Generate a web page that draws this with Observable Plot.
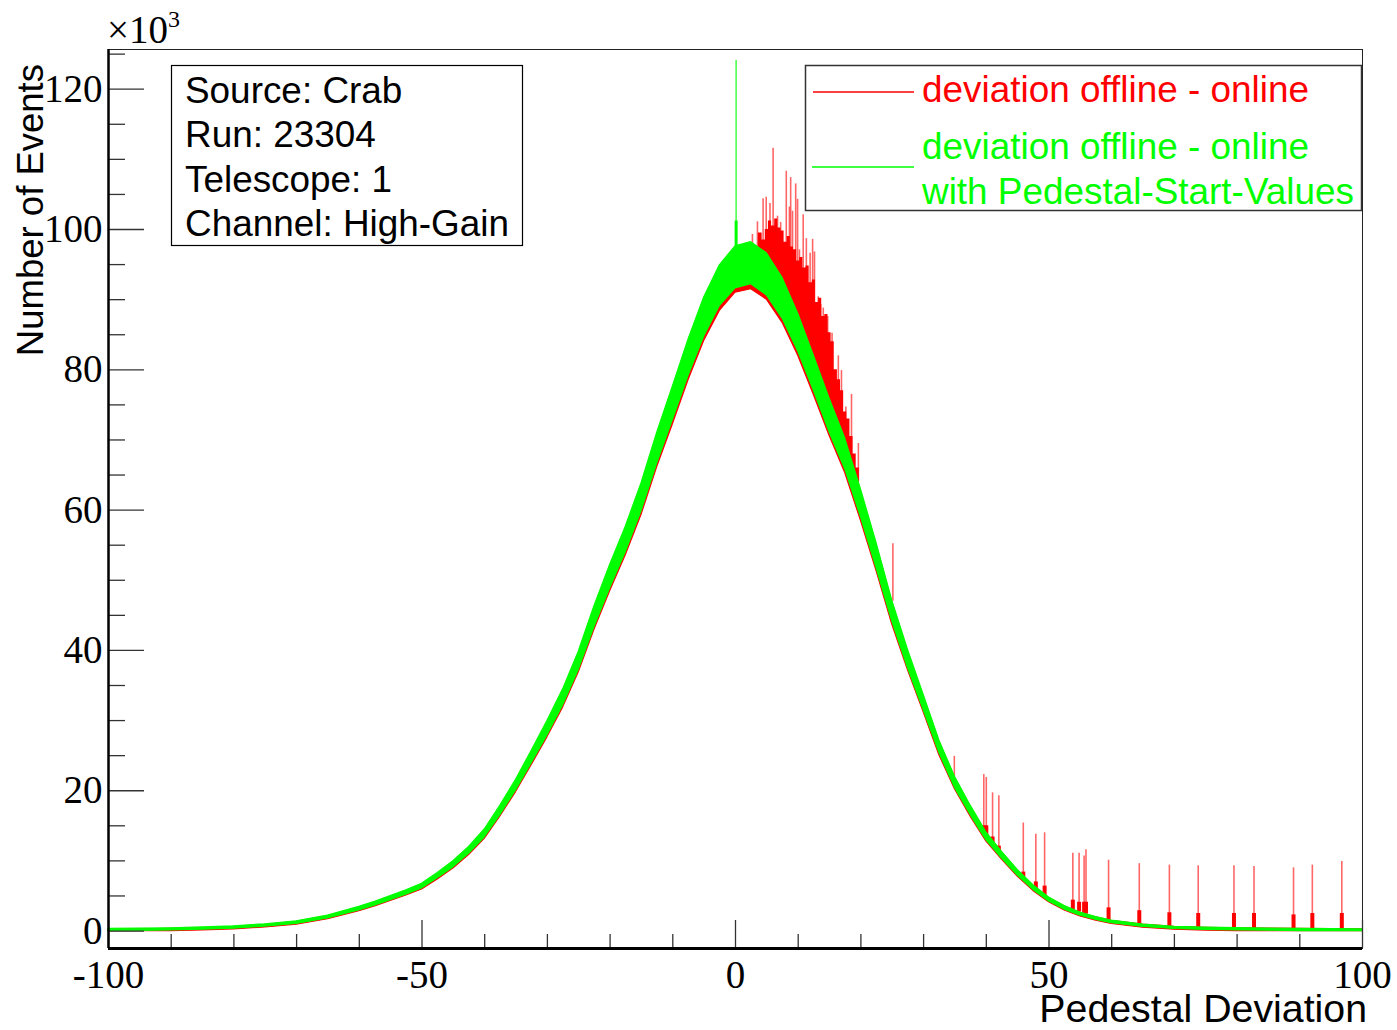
<!DOCTYPE html>
<html><head><meta charset="utf-8">
<script src="https://cdn.jsdelivr.net/npm/d3@7"></script>
<script src="https://cdn.jsdelivr.net/npm/@observablehq/plot@0.6"></script>
<style>
html,body{margin:0;padding:0;background:#fff;}
#chart{position:relative;width:1397px;height:1030px;overflow:hidden;}
</style></head><body><div id="chart"></div>
<script>
// Pedestal deviation (bin centre) and envelope of the fine-binned histograms, in units of 10^3 events
const xs = [-100,-95,-90,-85,-80,-75,-70,-65,-60,-57.5,-55,-52.5,-50,-47.5,-45,-42.5,-40,-37.5,-35,-32.5,-30,-27.5,-25,-22.5,-20,-17.5,-15,-12.5,-10,-7.5,-5,-2.5,0,2.5,5,7.5,10,12.5,15,17.5,20,22.5,25,27.5,30,32.5,35,37.5,40,42.5,45,47.5,50,52.5,55,57.5,60,65,70,75,80,85,90,95,100];
const greenLow  = [0,0.02,0.08,0.19,0.34,0.63,1.01,1.79,2.95,3.63,4.41,5.19,6.06,7.51,9.07,11.01,13.33,16.53,20.03,23.91,27.88,32.15,37.2,43.31,48.84,53.98,59.8,66.6,72.8,79.1,84.7,89.1,91.6,92.2,90.6,87.3,82.6,77.0,71.1,65.8,59.0,51.7,44.1,37.5,31.5,25.4,20.41,16.53,12.95,10.33,7.9,5.86,4.22,3.05,2.18,1.6,1.11,0.58,0.29,0.16,0.09,0.04,0,0,0];
const greenHigh = [0.3,0.34,0.4,0.51,0.67,0.97,1.39,2.21,3.45,4.17,4.99,5.82,6.74,8.29,9.94,11.99,14.47,17.87,21.57,25.69,29.92,34.45,39.81,46.29,52.17,57.62,63.8,71.0,77.6,84.3,90.3,94.9,97.6,98.2,96.6,93.1,88.0,82.0,75.9,70.2,63.0,55.3,47.1,40.1,33.7,27.2,21.99,17.87,14.06,11.27,8.7,6.54,4.79,3.55,2.62,2.0,1.49,0.92,0.61,0.48,0.41,0.36,0.3,0.27,0.25];
const redLow    = [0,0,0,0.09,0.24,0.52,0.9,1.68,2.83,3.51,4.28,5.06,5.92,7.36,8.91,10.84,13.15,16.33,19.81,23.66,27.61,31.85,36.87,42.94,48.44,53.55,59.3,66.1,72.2,78.5,84.1,88.4,91.0,91.5,90.0,86.7,82.0,76.4,70.6,65.3,58.5,51.3,43.7,37.2,31.2,25.1,20.2,16.3,12.77,10.17,7.75,5.72,4.09,2.93,2.07,1.49,1.0,0.47,0.19,0.06,0,0,0,0,0];
const redHigh   = [0.2,0.25,0.3,0.4,0.55,0.85,1.3,2.1,3.3,4.0,4.8,5.6,6.5,8.0,9.6,11.6,14.0,17.3,20.9,24.9,29.0,33.4,38.6,45.0,50.8,56.2,62.3,69.4,75.9,82.5,88.3,92.8,95.4,96.5,95.5,92.5,87.5,81.5,75.5,69.8,62.6,55.0,46.8,39.8,33.4,27.0,21.8,17.7,14.0,11.2,8.6,6.45,4.7,3.5,2.55,1.95,1.45,0.9,0.6,0.47,0.4,0.35,0.3,0.27,0.25];

// red excess right of the peak (dense forest of high bins): position, foot, top
const redExcessX    = [3.3,4.0,4.5,5.0,5.5,6.0,6.5,7.0,7.5,8.0,8.5,9.0,9.5,10.0,10.5,11.0,11.5,12.0,12.5,13.0,13.5,14.0,14.5,15.0,15.5,16.0,16.5,17.0,17.5,18.0,18.5,19.0,19.5,20.0];
const redExcessBase = [95,95,95,94,94,93,93,92,91,90,89,88,87,86,85,84,83,82,81,79,78,77,75,74,73,71,70,69,67,66,64,63,62,60];
const redExcessTop  = [97.5,99.5,98.5,100.0,101.2,100.5,101.5,100.2,99.8,98.2,99.0,97.5,97.1,95.5,96.0,94.5,94.8,92.4,92.8,89.6,90.2,87.6,87.9,85.3,84.0,80.0,78.6,77.0,74.0,73.0,70.5,68.0,66.0,63.0];

// single-bin red spikes near the peak: position, foot, top
const peakSpikeX    = [2.7,3.5,4.4,4.9,5.5,6.0,6.7,7.2,8.1,8.6,8.8,9.1,9.6,9.9,10.2,10.8,11.3,11.9,12.3,12.6,13.2,13.6,14.0,14.5,14.7,15.4,16.4,16.9,17.6,18.5,19.6,25.1,34.9];
const peakSpikeBase = [94,95,96,96,96,96,96,95,94,93,93,92,91,90,90,89,88,86,85,84,82,81,80,79,78,76,73,71,69,67,64,47,22];
const peakSpikeTop  = [99.3,101.1,104.4,104.6,103.7,111.6,101.9,101.0,108.3,103.2,107.4,102.6,106.5,104.3,97.1,102.1,98.7,96.6,98.6,96.8,90.4,89.3,88.8,86.9,87.6,85.2,82.0,79.9,74.7,76.5,69.5,55.2,24.9];

// red spikes in the right tail: position, foot, top of the thick group, top of the single bin
const tailSpikeX    = [39.6,40.0,41.0,42.0,45.9,47.9,49.3,53.8,54.8,55.6,55.9,59.5,64.4,69.2,73.8,79.5,82.7,89.0,92.0,96.7];
const tailSpikeBase = [14.0,13.5,12.3,11.2,7.5,5.9,5.0,3.0,2.7,2.5,2.4,1.4,0.8,0.5,0.35,0.25,0.2,0.15,0.15,0.12];
const tailSpikeBar  = [15.0,15.0,13.4,12.1,8.4,7.0,6.4,4.4,4.1,4.1,4.1,3.3,2.9,2.6,2.5,2.5,2.5,2.3,2.5,2.5];
const tailSpikeTop  = [22.3,21.9,19.7,19.3,15.4,13.8,14.0,11.1,11.1,10.7,11.6,10.1,9.6,9.4,9.3,9.3,9.2,9.0,9.4,9.9];

// green spike at zero
const greenSpikeX = [0.1];
const greenSpikeBase = [96];
const greenSpikeBar = [101.2];
const greenSpikeTop = [124.1];

// axis ticks
const yMajor = [0,20,40,60,80,100,120];
const yMinor = [5,10,15,25,30,35,45,50,55,65,70,75,85,90,95,105,110,115,125];
const xMajor = [-100,-50,0,50,100];
const xMinor = [-90,-80,-70,-60,-40,-30,-20,-10,10,20,30,40,60,70,80,90];

const statsLines = ["Source: Crab","Run: 23304","Telescope: 1","Channel: High-Gain"];
const legendRed = "deviation offline - online";
const legendGreen = ["deviation offline - online","with Pedestal-Start-Values"];

const band = xs.map((x,i)=>({x, gl:greenLow[i], gh:greenHigh[i], rl:redLow[i], rh:redHigh[i]}));
const excess = redExcessX.map((x,i)=>({x, b:redExcessBase[i], t:redExcessTop[i]}));
const peakSpikes = peakSpikeX.map((x,i)=>({x, b:peakSpikeBase[i], t:peakSpikeTop[i]}));
const tailSpikes = tailSpikeX.map((x,i)=>({x, b:tailSpikeBase[i], m:tailSpikeBar[i], t:tailSpikeTop[i]}));
const gSpikes = greenSpikeX.map((x,i)=>({x, b:greenSpikeBase[i], m:greenSpikeBar[i], t:greenSpikeTop[i]}));

const RED = "#ff0000", GREEN = "#00ff00";
const SERIF = "'Liberation Serif','Times New Roman',serif";
const SANS = "'Liberation Sans',Arial,sans-serif";
const fmt = d => String(d);

const chart = Plot.plot({
  width: 1397, height: 1030,
  marginLeft: 108, marginRight: 35, marginTop: 49, marginBottom: 82,
  x: {domain: [-100, 100], label: null},
  y: {domain: [-2.49, 125.66], label: null},
  style: {background: "#fff", overflow: "visible"},
  marks: [
    Plot.frame({stroke: "#222", strokeWidth: 1}),
    Plot.areaY(band, {x: "x", y1: "rl", y2: "rh", fill: RED, stroke: RED, strokeWidth: 1.2}),
    Plot.areaY(excess, {x: "x", y1: "b", y2: "t", curve: "step", fill: RED}),
    Plot.ruleX(peakSpikes, {x: "x", y1: "b", y2: "t", stroke: RED, strokeWidth: 1.6, strokeOpacity: 0.6}),
    Plot.ruleX(tailSpikes, {x: "x", y1: "b", y2: "t", stroke: RED, strokeWidth: 1.6, strokeOpacity: 0.6}),
    Plot.ruleX(tailSpikes, {x: "x", y1: "b", y2: "m", stroke: RED, strokeWidth: 4}),
    Plot.areaY(band, {x: "x", y1: "gl", y2: "gh", fill: GREEN, stroke: GREEN, strokeWidth: 1.2}),
    Plot.ruleX(gSpikes, {x: "x", y1: "b", y2: "t", stroke: GREEN, strokeWidth: 1.6, strokeOpacity: 0.7}),
    Plot.ruleX(gSpikes, {x: "x", y1: "b", y2: "m", stroke: GREEN, strokeWidth: 3}),
    Plot.axisY({ticks: yMajor, tickSize: -36, tickFormat: () => "", stroke: "#333", strokeWidth: 1.3, label: null}),
    Plot.axisY({ticks: yMinor, tickSize: -17, tickFormat: () => "", stroke: "#333", strokeWidth: 1.3, label: null}),
    Plot.axisY({ticks: yMajor, tickSize: 0, tickPadding: 6, tickFormat: fmt, fontSize: 39, fontFamily: SERIF, fill: "#000", label: null}),
    Plot.axisX({ticks: xMajor, tickSize: -28, tickFormat: () => "", stroke: "#333", strokeWidth: 1.3, label: null}),
    Plot.axisX({ticks: xMinor, tickSize: -14, tickFormat: () => "", stroke: "#333", strokeWidth: 1.3, label: null}),
    Plot.axisX({ticks: xMajor, tickSize: 0, tickPadding: 12, tickFormat: fmt, fontSize: 39, fontFamily: SERIF, fill: "#000", label: null}),
    Plot.ruleX([-100], {stroke: "#000", strokeWidth: 2.5}),
    Plot.ruleY([-2.49], {stroke: "#000", strokeWidth: 3})
  ]
});
document.getElementById("chart").appendChild(chart);

// annotations (axis titles, multiplier, stats box, legend)
const svg = d3.select(chart);
const g = svg.append("g").attr("text-anchor", "start");
g.append("text").attr("transform", "translate(43,64) rotate(-90)").attr("text-anchor", "end")
  .attr("font-family", SANS).attr("font-size", 36.5).attr("fill", "#000").text("Number of Events");
g.append("text").attr("x", 1367).attr("y", 1022).attr("text-anchor", "end")
  .attr("font-family", SANS).attr("font-size", 39.3).attr("fill", "#000").text("Pedestal Deviation");
const mult = g.append("text").attr("x", 107).attr("y", 43).attr("text-anchor", "start").attr("font-family", SERIF).attr("font-size", 39).attr("fill", "#000");
mult.append("tspan").text("\u00d710");
mult.append("tspan").attr("font-size", 24).attr("dy", -16).text("3");

// stats box
g.append("rect").attr("x", 171.5).attr("y", 65.5).attr("width", 351).attr("height", 180)
  .attr("fill", "#fff").attr("stroke", "#000").attr("stroke-width", 1.2);
statsLines.forEach((s, i) => {
  g.append("text").attr("x", 185).attr("y", 103 + i * 44.3).attr("text-anchor", "start").attr("font-family", SANS)
    .attr("font-size", 36.9).attr("fill", "#000").text(s);
});

// legend
g.append("rect").attr("x", 805.5).attr("y", 65.5).attr("width", 556).attr("height", 145)
  .attr("fill", "#fff").attr("stroke", "#333").attr("stroke-width", 1.5);
g.append("line").attr("x1", 813).attr("x2", 914).attr("y1", 92).attr("y2", 92).attr("stroke", RED).attr("stroke-width", 1.3);
g.append("text").attr("x", 922).attr("y", 102).attr("text-anchor", "start").attr("font-family", SANS).attr("font-size", 36.9).attr("fill", RED).text(legendRed);
g.append("line").attr("x1", 812).attr("x2", 914).attr("y1", 167).attr("y2", 167).attr("stroke", GREEN).attr("stroke-width", 1.3);
legendGreen.forEach((s, i) => {
  g.append("text").attr("x", 922).attr("y", 159 + i * 44.5).attr("text-anchor", "start").attr("font-family", SANS)
    .attr("font-size", 36.9).attr("fill", GREEN).text(s);
});
</script>
</body></html>
